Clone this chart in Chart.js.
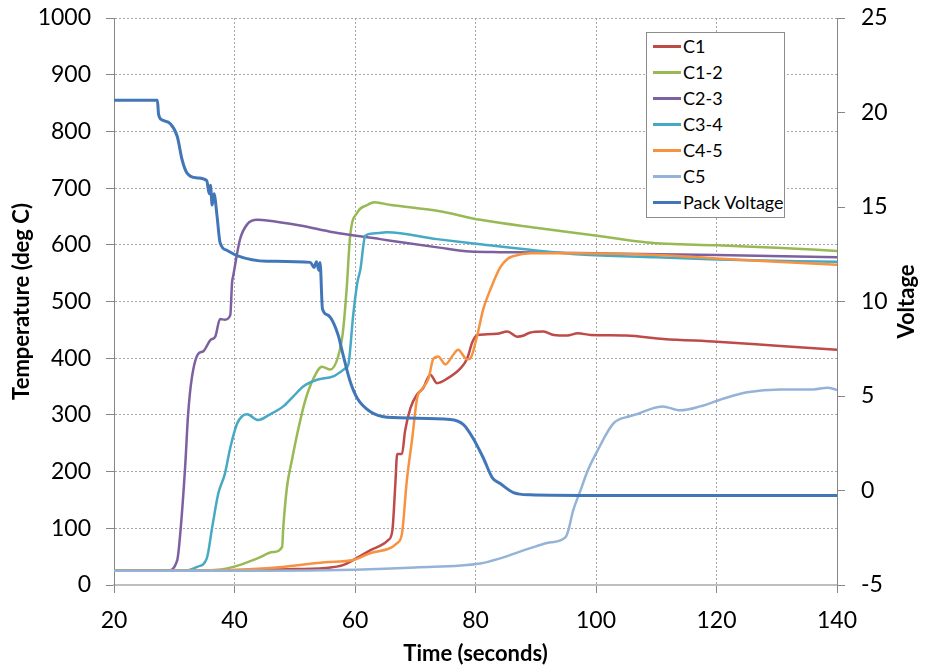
<!DOCTYPE html>
<html>
<head>
<meta charset="utf-8">
<script src="https://cdn.jsdelivr.net/npm/chart.js"></script>
<style>
body { margin: 0; background: #fff; }
#wrap { position: relative; width: 928px; height: 668px; }
#legend { position: absolute; left: 646px; top: 32px; width: 139px; height: 186px; box-sizing: border-box;
  border: 1px solid #8c8c8c; background: #fff; font: 18px Lato, sans-serif; color: #000; }
.item { height: 26px; display: flex; align-items: center; }
.swatch { width: 28px; height: 3px; margin: 0 2px 0 6px; }
</style>
</head>
<body>
<div id="wrap">
  <canvas id="tempChart" width="928" height="668"></canvas>
  <div id="legend"></div>
</div>
<script>
// readings: time in seconds, temperature in deg C, voltage in V
const c1Time = [20, 40, 50, 56, 58, 59.7, 62.5, 65.5, 66.2, 66.7, 67, 67.8, 68.3, 69.2, 70.3, 71.3, 72.5, 73.6, 75.3, 77.5, 78.6, 79.5, 80.3, 81.5, 83.6, 85.3, 86.9, 88, 89, 91.3, 93, 95.2, 97, 99.1, 105, 111.2, 120.1, 130, 140]
const c1Temp = [25, 26, 28, 31, 35, 44, 61, 79, 96, 179, 231, 231, 271, 312, 336, 347, 371, 356, 364, 382, 399, 429, 441, 442, 443, 447, 438, 440, 445, 447, 441, 440, 444, 441, 440, 434, 429, 422, 415]

const c12Time = [20, 36, 39.8, 43.8, 46.4, 47.9, 48.1, 48.7, 49.6, 50.4, 51.7, 53.1, 54.5, 55.9, 57.2, 58, 58.6, 59.2, 60.4, 62, 63.2, 66, 73.6, 80.8, 90, 100.2, 108.5, 120.1, 130, 140]
const c12Temp = [25, 26, 32, 47, 58, 67, 102, 172, 224, 266, 324, 364, 385, 380, 403, 447, 520, 616, 657, 670, 675, 670, 660, 644, 630, 616, 604, 599, 595, 589]

const c23Time = [20, 28.8, 30.5, 31, 31.8, 32.3, 32.9, 34, 34.8, 36, 36.8, 37.6, 38.4, 39.3, 39.6, 39.8, 40.9, 42.1, 43.8, 45.4, 50.9, 56.4, 64.2, 68, 74, 79.1, 84.1, 100, 120, 140]
const c23Temp = [25, 25, 44, 91, 207, 301, 364, 408, 412, 432, 438, 469, 468, 476, 534, 546, 609, 636, 644, 643, 634, 622, 610, 604, 595, 588, 587, 585, 582, 578]

const c34Time = [20, 31.5, 33.8, 35.4, 36.3, 37.3, 38.4, 39.3, 40.4, 41.3, 42.1, 43.9, 45.9, 48.1, 49.8, 51.4, 53.7, 56.4, 58.4, 58.9, 59.7, 60.4, 60.9, 61.7, 63, 65.3, 73.6, 80.8, 90, 97.4, 110, 120.1, 140]
const c34Temp = [25, 25, 32, 47, 102, 161, 196, 242, 284, 298, 301, 291, 301, 315, 333, 350, 362, 368, 382, 389, 476, 534, 557, 616, 620, 622, 610, 601, 590, 583, 578, 574, 570]

const c45Time = [20, 36, 45.9, 55, 59.7, 62.5, 67, 67.8, 68.6, 69.5, 70.3, 71.2, 72.2, 73, 73.8, 75, 76.3, 77.1, 78.6, 79.1, 80.3, 81.3, 82.5, 84.1, 85.3, 86.3, 89.1, 97.4, 110, 120.1, 130, 140]
const c45Temp = [25, 26, 30, 40, 44, 56, 74, 91, 184, 259, 329, 347, 364, 399, 403, 389, 406, 415, 398, 399, 441, 487, 522, 560, 575, 580, 585, 585, 582, 576, 570, 565]

const c5Time = [20, 45, 60, 70, 80.8, 84.1, 89.1, 91.9, 94.9, 95.4, 96.2, 97.4, 98.6, 100.2, 102.9, 105.7, 107, 109.5, 111, 114, 117.3, 121.2, 125.1, 130.6, 136.1, 138.4, 140]
const c5Temp = [25, 25, 27, 31, 38, 47, 65, 74, 84, 96, 131, 166, 201, 236, 285, 298, 302, 312, 315, 308, 315, 329, 340, 345, 345, 348, 344]

const packTime = [20, 27.2, 27.4, 28, 29.3, 30.5, 31.3, 32.1, 33.8, 35.4, 35.8, 36.0, 36.3, 36.6, 37.1, 37.6, 38.8, 40.4, 45.4, 52.6, 53.2, 53.6, 54.0, 54.2, 54.6, 55.5, 57.2, 57.9, 59.2, 60.4, 62.5, 65.3, 75.8, 78, 79.6, 81.3, 82.8, 84.1, 86.3, 89.1, 97.4, 140]
const packVolt = [20.65, 20.65, 19.9, 19.6, 19.42, 18.73, 17.5, 16.81, 16.54, 16.39, 15.7, 16.15, 15.1, 15.7, 14.53, 13.12, 12.7, 12.43, 12.13, 12.07, 11.8, 12.1, 11.65, 12.07, 9.61, 9.28, 8.23, 7.33, 5.77, 4.87, 4.18, 3.88, 3.76, 3.49, 2.77, 1.72, 0.67, 0.37, -0.11, -0.23, -0.26, -0.26]

const labels = ['C1', 'C1-2', 'C2-3', 'C3-4', 'C4-5', 'C5', 'Pack Voltage']
const colors = ['#be4b48', '#98b954', '#7d60a0', '#46aac5', '#f69240', '#95b3d7', '#4177b8']

const xTitle = 'Time (seconds)'
const yTitle = 'Temperature (deg C)'
const y1Title = 'Voltage'

function pts(xs, ys) {
    return xs.map((x, i) => ({x: x, y: ys[i]}))
}

const series = [
    pts(c1Time, c1Temp), pts(c12Time, c12Temp), pts(c23Time, c23Temp),
    pts(c34Time, c34Temp), pts(c45Time, c45Temp), pts(c5Time, c5Temp), pts(packTime, packVolt)
]

const tickFont = {family: 'Lato', size: 23}
const titleFont = {family: 'Lato', size: 22, weight: 'bold'}

// right axis title reads bottom-to-top like the left one
const voltTitle = {
    id: 'voltTitle',
    afterDraw(chart) {
        const c = chart.ctx
        const a = chart.chartArea
        c.save()
        c.translate(907, (a.top + a.bottom) / 2)
        c.rotate(-Math.PI / 2)
        c.font = 'bold 22px Lato'
        c.fillStyle = '#000'
        c.textAlign = 'center'
        c.textBaseline = 'middle'
        c.fillText(y1Title, 0, 0)
        c.restore()
    }
}

function fitSide(w) {
    return s => { s.width = w; s.paddingTop = 0; s.paddingBottom = 0 }
}

const chart = new Chart(document.getElementById('tempChart'), {
    type: 'line',
    data: {
        datasets: series.map((d, i) => ({
            label: labels[i],
            data: d,
            borderColor: colors[i],
            backgroundColor: colors[i],
            borderWidth: i == 6 ? 3 : 2.5,
            yAxisID: i == 6 ? 'y1' : 'y',
            order: 7 - i
        }))
    },
    options: {
        responsive: false,
        animation: false,
        layout: {padding: {top: 18}},
        elements: {point: {radius: 0}, line: {cubicInterpolationMode: 'monotone'}},
        plugins: {legend: {display: false}, tooltip: {enabled: false}},
        scales: {
            x: {
                type: 'linear', min: 20, max: 140,
                afterFit: s => { s.height = 83 },
                ticks: {stepSize: 20, font: tickFont, color: '#000', padding: 14},
                grid: {color: '#a6a6a6', tickColor: '#868686', tickLength: 8, tickBorderDash: []},
                border: {color: '#bfbfbf', width: 2, dash: [2, 2]},
                title: {display: true, text: xTitle, font: titleFont, color: '#000', padding: {top: 0, bottom: 1}}
            },
            y: {
                min: 0, max: 1000,
                afterFit: fitSide(114),
                ticks: {stepSize: 100, font: tickFont, color: '#000', padding: 15, callback: v => String(v)},
                grid: {color: '#a6a6a6', tickColor: '#868686', tickLength: 8, tickBorderDash: []},
                border: {color: '#868686', width: 1, dash: [2, 2]},
                title: {display: true, text: yTitle, font: titleFont, color: '#000', padding: {top: 9, bottom: 0}}
            },
            y1: {
                position: 'right', min: -5, max: 25,
                afterFit: fitSide(91),
                ticks: {stepSize: 5, font: tickFont, color: '#000', padding: 16},
                grid: {drawOnChartArea: false, tickColor: '#868686', tickLength: 8},
                border: {color: '#868686', width: 1}
            }
        }
    },
    plugins: [voltTitle]
})

const legend = document.getElementById('legend')
chart.data.datasets.forEach(ds => {
    const row = document.createElement('div')
    row.className = 'item'
    const sw = document.createElement('span')
    sw.className = 'swatch'
    sw.style.background = ds.borderColor
    const tx = document.createElement('span')
    tx.textContent = ds.label
    row.appendChild(sw)
    row.appendChild(tx)
    legend.appendChild(row)
})
</script>
</body>
</html>
